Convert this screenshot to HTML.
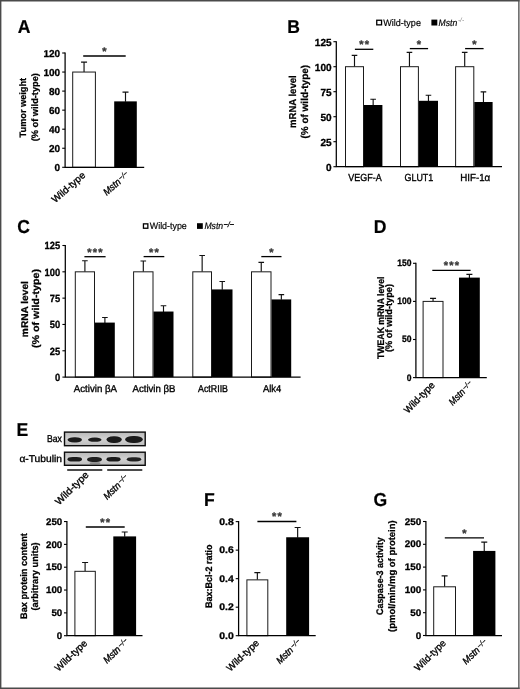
<!DOCTYPE html>
<html lang="en"><head><meta charset="utf-8"><title>Figure</title>
<style>
html,body{margin:0;padding:0;background:#fff;}
body{width:520px;height:689px;overflow:hidden;}
svg{display:block;font-family:"Liberation Sans",sans-serif;}
text{white-space:pre;text-rendering:geometricPrecision;}
</style></head><body>
<svg width="520" height="689" viewBox="0 0 520 689">
<rect x="0" y="0" width="520" height="689" fill="#fff"/>
<path d="M0 0.7H520M0.7 0V689" stroke="#4a4a4a" stroke-width="1.4" fill="none"/>
<path d="M0 688.2H520" stroke="#4a4a4a" stroke-width="1.6" fill="none"/>
<path d="M518.8 0V689" stroke="#4f4f4f" stroke-width="1.2" fill="none"/>
<path d="M519.7 0V689" stroke="#8c8c8c" stroke-width="0.7" fill="none"/>

<g id="A">
<text x="17.70" y="32.80" font-size="18.7" font-weight="bold" textLength="12.71" lengthAdjust="spacingAndGlyphs" stroke="#000" stroke-width="0.2">A</text>
<path d="M84.05 72.05V62.14M81.05 62.14H87.05" stroke="#111" stroke-width="1.15" fill="none"/>
<rect x="72.70" y="72.05" width="22.70" height="95.25" fill="#fff" stroke="#1a1a1a" stroke-width="1"/>
<path d="M125.50 101.77V92.05M122.50 92.05H128.50" stroke="#111" stroke-width="1.15" fill="none"/>
<rect x="114.20" y="101.37" width="22.60" height="65.93" fill="#000"/>
<path d="M65.10 52.45V167.30M64.50 167.30H144.20" stroke="#000" stroke-width="1.25" fill="none"/>
<path d="M62.20 167.30H65.10" stroke="#000" stroke-width="1.1"/>
<text x="60.10" y="170.80" font-size="10" font-weight="bold" text-anchor="end" textLength="5.55" lengthAdjust="spacingAndGlyphs" stroke="#000" stroke-width="0.3">0</text>
<path d="M62.20 148.25H65.10" stroke="#000" stroke-width="1.1"/>
<text x="60.10" y="151.75" font-size="10" font-weight="bold" text-anchor="end" textLength="11.10" lengthAdjust="spacingAndGlyphs" stroke="#000" stroke-width="0.3">20</text>
<path d="M62.20 129.20H65.10" stroke="#000" stroke-width="1.1"/>
<text x="60.10" y="132.70" font-size="10" font-weight="bold" text-anchor="end" textLength="11.10" lengthAdjust="spacingAndGlyphs" stroke="#000" stroke-width="0.3">40</text>
<path d="M62.20 110.15H65.10" stroke="#000" stroke-width="1.1"/>
<text x="60.10" y="113.65" font-size="10" font-weight="bold" text-anchor="end" textLength="11.10" lengthAdjust="spacingAndGlyphs" stroke="#000" stroke-width="0.3">60</text>
<path d="M62.20 91.10H65.10" stroke="#000" stroke-width="1.1"/>
<text x="60.10" y="94.60" font-size="10" font-weight="bold" text-anchor="end" textLength="11.10" lengthAdjust="spacingAndGlyphs" stroke="#000" stroke-width="0.3">80</text>
<path d="M62.20 72.05H65.10" stroke="#000" stroke-width="1.1"/>
<text x="60.10" y="75.55" font-size="10" font-weight="bold" text-anchor="end" textLength="16.65" lengthAdjust="spacingAndGlyphs" stroke="#000" stroke-width="0.3">100</text>
<path d="M62.20 53.00H65.10" stroke="#000" stroke-width="1.1"/>
<text x="60.10" y="56.50" font-size="10" font-weight="bold" text-anchor="end" textLength="16.65" lengthAdjust="spacingAndGlyphs" stroke="#000" stroke-width="0.3">120</text>
<path d="M83.20 56.00H125.70" stroke="#000" stroke-width="1.3"/><text x="102.31" y="54.98" font-size="11" font-weight="bold" fill="#3a3a3a" stroke="#3a3a3a" stroke-width="0.35">*</text>
<text transform="translate(86.00 176.20) rotate(-41.5)" font-size="9.8" text-anchor="end" textLength="41.00" lengthAdjust="spacingAndGlyphs" stroke="#000" stroke-width="0.35">Wild-type</text>
<g transform="translate(121.50 183.00) rotate(-41.5)"><text x="0" y="0" font-size="9.8" font-style="italic" text-anchor="end" textLength="19.8" lengthAdjust="spacingAndGlyphs" stroke="#000" stroke-width="0.35">Mstn</text><text x="0.8" y="-2.0" font-size="7.5" font-style="italic" fill="#111" stroke="#111" stroke-width="0.25" textLength="10.3" lengthAdjust="spacingAndGlyphs">−/−</text></g>
<text transform="translate(26.40 107.65) rotate(-90)" font-size="9.3" font-weight="bold" text-anchor="middle" textLength="59.50" lengthAdjust="spacingAndGlyphs" stroke="#000" stroke-width="0.25">Tumor weight</text>
<text transform="translate(37.80 107.20) rotate(-90)" font-size="9.3" font-weight="bold" text-anchor="middle" textLength="68.20" lengthAdjust="spacingAndGlyphs" stroke="#000" stroke-width="0.25">(% of wild-type)</text>
</g>
<g id="B">
<text x="287.20" y="32.50" font-size="18.7" font-weight="bold" textLength="12.71" lengthAdjust="spacingAndGlyphs" stroke="#000" stroke-width="0.2">B</text>
<path d="M354.50 66.70V55.40M351.70 55.40H357.30" stroke="#111" stroke-width="1.15" fill="none"/>
<rect x="345.50" y="66.70" width="18.00" height="100.00" fill="#fff" stroke="#1a1a1a" stroke-width="1"/>
<path d="M373.15 105.40V99.20M370.35 99.20H375.95" stroke="#111" stroke-width="1.15" fill="none"/>
<rect x="363.90" y="105.00" width="18.50" height="61.70" fill="#000"/>
<path d="M409.45 66.70V52.40M406.65 52.40H412.25" stroke="#111" stroke-width="1.15" fill="none"/>
<rect x="400.50" y="66.70" width="17.90" height="100.00" fill="#fff" stroke="#1a1a1a" stroke-width="1"/>
<path d="M428.45 101.20V95.20M425.65 95.20H431.25" stroke="#111" stroke-width="1.15" fill="none"/>
<rect x="418.90" y="100.80" width="19.10" height="65.90" fill="#000"/>
<path d="M464.70 66.70V52.40M461.90 52.40H467.50" stroke="#111" stroke-width="1.15" fill="none"/>
<rect x="455.60" y="66.70" width="18.20" height="100.00" fill="#fff" stroke="#1a1a1a" stroke-width="1"/>
<path d="M483.45 102.40V91.90M480.65 91.90H486.25" stroke="#111" stroke-width="1.15" fill="none"/>
<rect x="474.30" y="102.00" width="18.30" height="64.70" fill="#000"/>
<path d="M336.30 41.15V166.70M335.70 166.70H502.00" stroke="#000" stroke-width="1.25" fill="none"/>
<path d="M333.40 166.70H336.30" stroke="#000" stroke-width="1.1"/>
<text x="331.60" y="170.75" font-size="10.3" font-weight="bold" text-anchor="end" textLength="5.60" lengthAdjust="spacingAndGlyphs" stroke="#000" stroke-width="0.3">0</text>
<path d="M333.40 141.70H336.30" stroke="#000" stroke-width="1.1"/>
<text x="331.60" y="145.75" font-size="10.3" font-weight="bold" text-anchor="end" textLength="11.20" lengthAdjust="spacingAndGlyphs" stroke="#000" stroke-width="0.3">25</text>
<path d="M333.40 116.70H336.30" stroke="#000" stroke-width="1.1"/>
<text x="331.60" y="120.75" font-size="10.3" font-weight="bold" text-anchor="end" textLength="11.20" lengthAdjust="spacingAndGlyphs" stroke="#000" stroke-width="0.3">50</text>
<path d="M333.40 91.70H336.30" stroke="#000" stroke-width="1.1"/>
<text x="331.60" y="95.75" font-size="10.3" font-weight="bold" text-anchor="end" textLength="11.20" lengthAdjust="spacingAndGlyphs" stroke="#000" stroke-width="0.3">75</text>
<path d="M333.40 66.70H336.30" stroke="#000" stroke-width="1.1"/>
<text x="331.60" y="70.75" font-size="10.3" font-weight="bold" text-anchor="end" textLength="16.80" lengthAdjust="spacingAndGlyphs" stroke="#000" stroke-width="0.3">100</text>
<path d="M333.40 41.70H336.30" stroke="#000" stroke-width="1.1"/>
<text x="331.60" y="45.75" font-size="10.3" font-weight="bold" text-anchor="end" textLength="16.80" lengthAdjust="spacingAndGlyphs" stroke="#000" stroke-width="0.3">125</text>
<path d="M354.90 49.30H373.30" stroke="#000" stroke-width="1.3"/><text x="359.21 364.71" y="48.27" font-size="11" font-weight="bold" fill="#3a3a3a" stroke="#3a3a3a" stroke-width="0.35">**</text>
<path d="M409.80 48.60H428.10" stroke="#000" stroke-width="1.3"/><text x="416.81" y="47.58" font-size="11" font-weight="bold" fill="#3a3a3a" stroke="#3a3a3a" stroke-width="0.35">*</text>
<path d="M465.10 48.60H483.60" stroke="#000" stroke-width="1.3"/><text x="472.21" y="47.58" font-size="11" font-weight="bold" fill="#3a3a3a" stroke="#3a3a3a" stroke-width="0.35">*</text>
<text x="348.30" y="180.80" font-size="10.3" textLength="33.40" lengthAdjust="spacingAndGlyphs" stroke="#000" stroke-width="0.35">VEGF-A</text>
<text x="404.50" y="180.80" font-size="10.3" textLength="28.80" lengthAdjust="spacingAndGlyphs" stroke="#000" stroke-width="0.35">GLUT1</text>
<text x="460.20" y="180.80" font-size="10.3" textLength="30.00" lengthAdjust="spacingAndGlyphs" stroke="#000" stroke-width="0.35">HIF-1α</text>
<text transform="translate(296.30 101.65) rotate(-90)" font-size="10" font-weight="bold" text-anchor="middle" textLength="52.70" lengthAdjust="spacingAndGlyphs" stroke="#000" stroke-width="0.25">mRNA level</text>
<text transform="translate(308.00 101.70) rotate(-90)" font-size="10" font-weight="bold" text-anchor="middle" textLength="73.60" lengthAdjust="spacingAndGlyphs" stroke="#000" stroke-width="0.25">(% of wild-type)</text>
<rect x="376.75" y="20.25" width="4.80" height="4.60" fill="#fff" stroke="#000" stroke-width="1.3"/>
<text x="383.30" y="25.60" font-size="9.5" textLength="37.60" lengthAdjust="spacingAndGlyphs" stroke="#000" stroke-width="0.18">Wild-type</text>
<rect x="431.40" y="19.60" width="5.90" height="5.90" fill="#000"/>
<text x="438.60" y="25.60" font-size="9.5" font-style="italic" textLength="18.70" lengthAdjust="spacingAndGlyphs" stroke="#000" stroke-width="0.18">Mstn</text>
<text x="458.00" y="22.40" font-size="6.2" font-style="italic" textLength="6.00" lengthAdjust="spacingAndGlyphs" fill="#777">-/-</text>
</g>
<g id="C">
<text x="17.30" y="233.20" font-size="18.7" font-weight="bold" textLength="12.71" lengthAdjust="spacingAndGlyphs" stroke="#000" stroke-width="0.2">C</text>
<path d="M84.90 271.82V260.77M82.10 260.77H87.70" stroke="#111" stroke-width="1.15" fill="none"/>
<rect x="75.30" y="271.82" width="19.20" height="105.28" fill="#fff" stroke="#1a1a1a" stroke-width="1"/>
<path d="M104.90 322.99V317.51M102.10 317.51H107.70" stroke="#111" stroke-width="1.15" fill="none"/>
<rect x="95.00" y="322.59" width="19.80" height="54.51" fill="#000"/>
<path d="M143.30 271.82V260.98M140.50 260.98H146.10" stroke="#111" stroke-width="1.15" fill="none"/>
<rect x="133.60" y="271.82" width="19.40" height="105.28" fill="#fff" stroke="#1a1a1a" stroke-width="1"/>
<path d="M163.50 311.93V305.72M160.70 305.72H166.30" stroke="#111" stroke-width="1.15" fill="none"/>
<rect x="153.50" y="311.53" width="20.00" height="65.57" fill="#000"/>
<path d="M202.15 271.82V255.50M199.35 255.50H204.95" stroke="#111" stroke-width="1.15" fill="none"/>
<rect x="192.80" y="271.82" width="18.70" height="105.28" fill="#fff" stroke="#1a1a1a" stroke-width="1"/>
<path d="M222.25 289.82V281.51M219.45 281.51H225.05" stroke="#111" stroke-width="1.15" fill="none"/>
<rect x="212.00" y="289.42" width="20.50" height="87.68" fill="#000"/>
<path d="M261.25 271.82V262.34M258.45 262.34H264.05" stroke="#111" stroke-width="1.15" fill="none"/>
<rect x="251.50" y="271.82" width="19.50" height="105.28" fill="#fff" stroke="#1a1a1a" stroke-width="1"/>
<path d="M281.35 299.82V294.67M278.55 294.67H284.15" stroke="#111" stroke-width="1.15" fill="none"/>
<rect x="271.50" y="299.42" width="19.70" height="77.68" fill="#000"/>
<path d="M65.30 244.95V377.10M64.70 377.10H300.60" stroke="#000" stroke-width="1.25" fill="none"/>
<path d="M62.40 377.10H65.30" stroke="#000" stroke-width="1.1"/>
<text x="60.10" y="381.04" font-size="10.4" font-weight="bold" text-anchor="end" textLength="5.20" lengthAdjust="spacingAndGlyphs" stroke="#000" stroke-width="0.3">0</text>
<path d="M62.40 350.78H65.30" stroke="#000" stroke-width="1.1"/>
<text x="60.10" y="354.72" font-size="10.4" font-weight="bold" text-anchor="end" textLength="10.40" lengthAdjust="spacingAndGlyphs" stroke="#000" stroke-width="0.3">25</text>
<path d="M62.40 324.46H65.30" stroke="#000" stroke-width="1.1"/>
<text x="60.10" y="328.40" font-size="10.4" font-weight="bold" text-anchor="end" textLength="10.40" lengthAdjust="spacingAndGlyphs" stroke="#000" stroke-width="0.3">50</text>
<path d="M62.40 298.14H65.30" stroke="#000" stroke-width="1.1"/>
<text x="60.10" y="302.08" font-size="10.4" font-weight="bold" text-anchor="end" textLength="10.40" lengthAdjust="spacingAndGlyphs" stroke="#000" stroke-width="0.3">75</text>
<path d="M62.40 271.82H65.30" stroke="#000" stroke-width="1.1"/>
<text x="60.10" y="275.76" font-size="10.4" font-weight="bold" text-anchor="end" textLength="15.60" lengthAdjust="spacingAndGlyphs" stroke="#000" stroke-width="0.3">100</text>
<path d="M62.40 245.50H65.30" stroke="#000" stroke-width="1.1"/>
<text x="60.10" y="249.44" font-size="10.4" font-weight="bold" text-anchor="end" textLength="15.60" lengthAdjust="spacingAndGlyphs" stroke="#000" stroke-width="0.3">125</text>
<path d="M84.40 256.70H105.60" stroke="#000" stroke-width="1.3"/><text x="87.36 92.86 98.36" y="255.67" font-size="11" font-weight="bold" fill="#3a3a3a" stroke="#3a3a3a" stroke-width="0.35">***</text>
<path d="M143.60 256.60H164.30" stroke="#000" stroke-width="1.3"/><text x="149.06 154.56" y="255.58" font-size="11" font-weight="bold" fill="#3a3a3a" stroke="#3a3a3a" stroke-width="0.35">**</text>
<path d="M261.30 256.60H281.50" stroke="#000" stroke-width="1.3"/><text x="269.26" y="255.58" font-size="11" font-weight="bold" fill="#3a3a3a" stroke="#3a3a3a" stroke-width="0.35">*</text>
<text x="73.75" y="392.00" font-size="10" textLength="43.25" lengthAdjust="spacingAndGlyphs" stroke="#000" stroke-width="0.35">Activin βA</text>
<text x="132.50" y="392.00" font-size="10" textLength="43.00" lengthAdjust="spacingAndGlyphs" stroke="#000" stroke-width="0.35">Activin βB</text>
<text x="198.00" y="392.00" font-size="10" textLength="30.00" lengthAdjust="spacingAndGlyphs" stroke="#000" stroke-width="0.35">ActRIIB</text>
<text x="262.90" y="392.00" font-size="10" textLength="18.30" lengthAdjust="spacingAndGlyphs" stroke="#000" stroke-width="0.35">Alk4</text>
<text transform="translate(27.90 309.15) rotate(-90)" font-size="9.8" font-weight="bold" text-anchor="middle" textLength="56.00" lengthAdjust="spacingAndGlyphs" stroke="#000" stroke-width="0.25">mRNA level</text>
<text transform="translate(39.00 308.50) rotate(-90)" font-size="9.8" font-weight="bold" text-anchor="middle" textLength="79.20" lengthAdjust="spacingAndGlyphs" stroke="#000" stroke-width="0.25">(% of wild-type)</text>
<rect x="143.45" y="223.85" width="4.40" height="4.40" fill="#fff" stroke="#000" stroke-width="1.3"/>
<text x="149.80" y="229.40" font-size="9.5" textLength="37.00" lengthAdjust="spacingAndGlyphs" stroke="#000" stroke-width="0.18">Wild-type</text>
<rect x="197.00" y="223.20" width="5.80" height="5.70" fill="#000"/>
<text x="204.40" y="229.40" font-size="9.5" font-style="italic" textLength="18.80" lengthAdjust="spacingAndGlyphs" stroke="#000" stroke-width="0.18">Mstn</text>
<text x="223.40" y="227.40" font-size="7.5" font-style="italic" textLength="10.60" lengthAdjust="spacingAndGlyphs" fill="#111" stroke="#111" stroke-width="0.3">−/−</text>
</g>
<g id="D">
<text x="373.70" y="233.30" font-size="18.7" font-weight="bold" textLength="12.71" lengthAdjust="spacingAndGlyphs" stroke="#000" stroke-width="0.2">D</text>
<path d="M433.05 301.40V298.35M430.05 298.35H436.05" stroke="#111" stroke-width="1.15" fill="none"/>
<rect x="423.10" y="301.40" width="19.90" height="76.20" fill="#fff" stroke="#1a1a1a" stroke-width="1"/>
<path d="M469.40 278.01V274.43M466.40 274.43H472.40" stroke="#111" stroke-width="1.15" fill="none"/>
<rect x="459.00" y="277.61" width="20.80" height="99.99" fill="#000"/>
<path d="M415.90 262.75V377.60M415.30 377.60H486.80" stroke="#000" stroke-width="1.25" fill="none"/>
<path d="M413.00 377.60H415.90" stroke="#000" stroke-width="1.1"/>
<text x="411.40" y="380.59" font-size="9.4" font-weight="bold" text-anchor="end" textLength="4.75" lengthAdjust="spacingAndGlyphs" stroke="#000" stroke-width="0.3">0</text>
<path d="M413.00 339.50H415.90" stroke="#000" stroke-width="1.1"/>
<text x="411.40" y="342.49" font-size="9.4" font-weight="bold" text-anchor="end" textLength="9.50" lengthAdjust="spacingAndGlyphs" stroke="#000" stroke-width="0.3">50</text>
<path d="M413.00 301.40H415.90" stroke="#000" stroke-width="1.1"/>
<text x="411.40" y="304.39" font-size="9.4" font-weight="bold" text-anchor="end" textLength="14.25" lengthAdjust="spacingAndGlyphs" stroke="#000" stroke-width="0.3">100</text>
<path d="M413.00 263.30H415.90" stroke="#000" stroke-width="1.1"/>
<text x="411.40" y="266.29" font-size="9.4" font-weight="bold" text-anchor="end" textLength="14.25" lengthAdjust="spacingAndGlyphs" stroke="#000" stroke-width="0.3">150</text>
<path d="M432.30 270.40H470.60" stroke="#000" stroke-width="1.3"/><text x="443.81 449.31 454.81" y="269.37" font-size="11" font-weight="bold" fill="#3a3a3a" stroke="#3a3a3a" stroke-width="0.35">***</text>
<text transform="translate(435.40 385.60) rotate(-46)" font-size="9.8" text-anchor="end" textLength="39.50" lengthAdjust="spacingAndGlyphs" stroke="#000" stroke-width="0.35">Wild-type</text>
<g transform="translate(465.80 392.60) rotate(-46)"><text x="0" y="0" font-size="9.8" font-style="italic" text-anchor="end" textLength="18.7" lengthAdjust="spacingAndGlyphs" stroke="#000" stroke-width="0.35">Mstn</text><text x="0.8" y="-2.0" font-size="7.5" font-style="italic" fill="#111" stroke="#111" stroke-width="0.25" textLength="10.3" lengthAdjust="spacingAndGlyphs">−/−</text></g>
<text transform="translate(383.70 317.80) rotate(-90)" font-size="9.5" font-weight="bold" text-anchor="middle" textLength="82.40" lengthAdjust="spacingAndGlyphs" stroke="#000" stroke-width="0.25">TWEAK mRNA level</text>
<text transform="translate(392.10 318.00) rotate(-90)" font-size="9.5" font-weight="bold" text-anchor="middle" textLength="68.10" lengthAdjust="spacingAndGlyphs" stroke="#000" stroke-width="0.25">(% of wild-type)</text>
</g>
<g id="E">
<text x="16.40" y="435.70" font-size="18.7" font-weight="bold" textLength="11.74" lengthAdjust="spacingAndGlyphs" stroke="#000" stroke-width="0.2">E</text>
<defs><filter id="bl" x="-20%" y="-60%" width="140%" height="220%"><feGaussianBlur stdDeviation="0.75"/></filter><linearGradient id="gb" x1="0" y1="0" x2="0" y2="1"><stop offset="0" stop-color="#b8b8b8"/><stop offset="0.5" stop-color="#d2d2d2"/><stop offset="1" stop-color="#bcbcbc"/></linearGradient></defs>
<rect x="64.5" y="432.10" width="80.7" height="13.60" fill="url(#gb)" stroke="#0c0c0c" stroke-width="1.4"/>
<rect x="67.6" y="437.3" width="14.40" height="5.10" rx="6.48" ry="2.55" fill="#101010" opacity="0.93" filter="url(#bl)"/>
<rect x="88.0" y="437.6" width="13.50" height="4.20" rx="6.08" ry="2.10" fill="#101010" opacity="0.93" filter="url(#bl)"/>
<rect x="106.5" y="436.2" width="15.30" height="6.70" rx="6.88" ry="3.35" fill="#101010" opacity="0.93" filter="url(#bl)"/>
<rect x="125.1" y="436.1" width="17.70" height="6.80" rx="7.97" ry="3.40" fill="#101010" opacity="0.93" filter="url(#bl)"/>
<rect x="64.5" y="452.20" width="80.7" height="13.10" fill="url(#gb)" stroke="#0c0c0c" stroke-width="1.4"/>
<rect x="67.5" y="456.9" width="14.50" height="4.60" rx="5.22" ry="2.30" fill="#101010" opacity="0.93" filter="url(#bl)"/>
<rect x="87.0" y="456.9" width="15.00" height="5.10" rx="5.40" ry="2.55" fill="#101010" opacity="0.90" filter="url(#bl)"/>
<rect x="106.5" y="456.9" width="14.10" height="4.60" rx="5.08" ry="2.30" fill="#101010" opacity="0.93" filter="url(#bl)"/>
<rect x="126.8" y="457.2" width="14.40" height="4.30" rx="5.18" ry="2.15" fill="#101010" opacity="0.90" filter="url(#bl)"/>
<ellipse cx="95" cy="463.3" rx="5.5" ry="1.4" fill="#555" opacity="0.5" filter="url(#bl)"/>
<text x="61.90" y="442.10" font-size="9.9" text-anchor="end" textLength="15.00" lengthAdjust="spacingAndGlyphs" stroke="#000" stroke-width="0.35">Bax</text>
<text x="61.90" y="462.10" font-size="9.9" text-anchor="end" textLength="42.50" lengthAdjust="spacingAndGlyphs" stroke="#000" stroke-width="0.35">α-Tubulin</text>
<path d="M67.2 469.9H102.3M107.2 469.9H142.3" stroke="#111" stroke-width="1.5"/>
<text transform="translate(89.40 475.60) rotate(-44.5)" font-size="9.8" text-anchor="end" textLength="42.80" lengthAdjust="spacingAndGlyphs" stroke="#000" stroke-width="0.35">Wild-type</text>
<g transform="translate(121.30 486.30) rotate(-44.5)"><text x="0" y="0" font-size="9.8" font-style="italic" text-anchor="end" textLength="19.8" lengthAdjust="spacingAndGlyphs" stroke="#000" stroke-width="0.35">Mstn</text><text x="0.8" y="-2.0" font-size="7.5" font-style="italic" fill="#111" stroke="#111" stroke-width="0.25" textLength="10.3" lengthAdjust="spacingAndGlyphs">−/−</text></g>
<path d="M85.10 571.32V562.51M82.10 562.51H88.10" stroke="#111" stroke-width="1.15" fill="none"/>
<rect x="74.90" y="571.32" width="20.40" height="64.38" fill="#fff" stroke="#1a1a1a" stroke-width="1"/>
<path d="M124.70 536.80V532.01M121.70 532.01H127.70" stroke="#111" stroke-width="1.15" fill="none"/>
<rect x="113.30" y="536.40" width="22.80" height="99.30" fill="#000"/>
<path d="M66.90 521.00V635.70M66.30 635.70H142.50" stroke="#000" stroke-width="1.25" fill="none"/>
<path d="M64.00 635.70H66.90" stroke="#000" stroke-width="1.1"/>
<text x="62.20" y="638.86" font-size="9.6" font-weight="bold" text-anchor="end" textLength="5.40" lengthAdjust="spacingAndGlyphs" stroke="#000" stroke-width="0.3">0</text>
<path d="M64.00 612.87H66.90" stroke="#000" stroke-width="1.1"/>
<text x="62.20" y="616.03" font-size="9.6" font-weight="bold" text-anchor="end" textLength="10.80" lengthAdjust="spacingAndGlyphs" stroke="#000" stroke-width="0.3">50</text>
<path d="M64.00 590.04H66.90" stroke="#000" stroke-width="1.1"/>
<text x="62.20" y="593.20" font-size="9.6" font-weight="bold" text-anchor="end" textLength="16.20" lengthAdjust="spacingAndGlyphs" stroke="#000" stroke-width="0.3">100</text>
<path d="M64.00 567.21H66.90" stroke="#000" stroke-width="1.1"/>
<text x="62.20" y="570.37" font-size="9.6" font-weight="bold" text-anchor="end" textLength="16.20" lengthAdjust="spacingAndGlyphs" stroke="#000" stroke-width="0.3">150</text>
<path d="M64.00 544.38H66.90" stroke="#000" stroke-width="1.1"/>
<text x="62.20" y="547.54" font-size="9.6" font-weight="bold" text-anchor="end" textLength="16.20" lengthAdjust="spacingAndGlyphs" stroke="#000" stroke-width="0.3">200</text>
<path d="M64.00 521.55H66.90" stroke="#000" stroke-width="1.1"/>
<text x="62.20" y="524.71" font-size="9.6" font-weight="bold" text-anchor="end" textLength="16.20" lengthAdjust="spacingAndGlyphs" stroke="#000" stroke-width="0.3">250</text>
<path d="M85.80 527.00H124.70" stroke="#000" stroke-width="1.3"/><text x="100.36 105.86" y="525.98" font-size="11" font-weight="bold" fill="#3a3a3a" stroke="#3a3a3a" stroke-width="0.35">**</text>
<text transform="translate(87.90 644.00) rotate(-43.5)" font-size="9.8" text-anchor="end" textLength="40.50" lengthAdjust="spacingAndGlyphs" stroke="#000" stroke-width="0.35">Wild-type</text>
<g transform="translate(121.30 650.20) rotate(-44)"><text x="0" y="0" font-size="9.8" font-style="italic" text-anchor="end" textLength="20" lengthAdjust="spacingAndGlyphs" stroke="#000" stroke-width="0.35">Mstn</text><text x="0.8" y="-2.0" font-size="7.5" font-style="italic" fill="#111" stroke="#111" stroke-width="0.25" textLength="10.3" lengthAdjust="spacingAndGlyphs">−/−</text></g>
<text transform="translate(27.10 576.00) rotate(-90)" font-size="9.5" font-weight="bold" text-anchor="middle" textLength="85.80" lengthAdjust="spacingAndGlyphs" stroke="#000" stroke-width="0.25">Bax protein content</text>
<text transform="translate(37.50 576.45) rotate(-90)" font-size="9.5" font-weight="bold" text-anchor="middle" textLength="68.30" lengthAdjust="spacingAndGlyphs" stroke="#000" stroke-width="0.25">(arbitrary units)</text>
</g>
<g id="F">
<text x="203.90" y="505.80" font-size="18.7" font-weight="bold" textLength="10.75" lengthAdjust="spacingAndGlyphs" stroke="#000" stroke-width="0.2">F</text>
<path d="M257.35 579.86V572.64M254.35 572.64H260.35" stroke="#111" stroke-width="1.15" fill="none"/>
<rect x="246.90" y="579.86" width="20.90" height="55.84" fill="#fff" stroke="#1a1a1a" stroke-width="1"/>
<path d="M297.65 537.66V527.47M294.65 527.47H300.65" stroke="#111" stroke-width="1.15" fill="none"/>
<rect x="286.20" y="537.26" width="22.90" height="98.44" fill="#000"/>
<path d="M238.60 521.07V635.70M238.00 635.70H315.70" stroke="#000" stroke-width="1.25" fill="none"/>
<path d="M235.70 635.70H238.60" stroke="#000" stroke-width="1.1"/>
<text x="233.70" y="638.86" font-size="9.6" font-weight="bold" text-anchor="end" textLength="14.50" lengthAdjust="spacingAndGlyphs" stroke="#000" stroke-width="0.3">0.0</text>
<path d="M235.70 607.18H238.60" stroke="#000" stroke-width="1.1"/>
<text x="233.70" y="610.34" font-size="9.6" font-weight="bold" text-anchor="end" textLength="14.50" lengthAdjust="spacingAndGlyphs" stroke="#000" stroke-width="0.3">0.2</text>
<path d="M235.70 578.66H238.60" stroke="#000" stroke-width="1.1"/>
<text x="233.70" y="581.82" font-size="9.6" font-weight="bold" text-anchor="end" textLength="14.50" lengthAdjust="spacingAndGlyphs" stroke="#000" stroke-width="0.3">0.4</text>
<path d="M235.70 550.14H238.60" stroke="#000" stroke-width="1.1"/>
<text x="233.70" y="553.30" font-size="9.6" font-weight="bold" text-anchor="end" textLength="14.50" lengthAdjust="spacingAndGlyphs" stroke="#000" stroke-width="0.3">0.6</text>
<path d="M235.70 521.62H238.60" stroke="#000" stroke-width="1.1"/>
<text x="233.70" y="524.78" font-size="9.6" font-weight="bold" text-anchor="end" textLength="14.50" lengthAdjust="spacingAndGlyphs" stroke="#000" stroke-width="0.3">0.8</text>
<path d="M257.40 521.50H296.40" stroke="#000" stroke-width="1.3"/><text x="272.01 277.51" y="520.48" font-size="11" font-weight="bold" fill="#3a3a3a" stroke="#3a3a3a" stroke-width="0.35">**</text>
<text transform="translate(259.80 643.80) rotate(-43.5)" font-size="9.8" text-anchor="end" textLength="40.80" lengthAdjust="spacingAndGlyphs" stroke="#000" stroke-width="0.35">Wild-type</text>
<g transform="translate(293.90 651.00) rotate(-44)"><text x="0" y="0" font-size="9.8" font-style="italic" text-anchor="end" textLength="19.3" lengthAdjust="spacingAndGlyphs" stroke="#000" stroke-width="0.35">Mstn</text><text x="0.8" y="-2.0" font-size="7.5" font-style="italic" fill="#111" stroke="#111" stroke-width="0.25" textLength="10.3" lengthAdjust="spacingAndGlyphs">−/−</text></g>
<text transform="translate(212.10 576.20) rotate(-90)" font-size="9.5" font-weight="bold" text-anchor="middle" textLength="63.60" lengthAdjust="spacingAndGlyphs" stroke="#000" stroke-width="0.25">Bax:Bcl-2 ratio</text>
</g>
<g id="G">
<text x="373.40" y="505.70" font-size="18.7" font-weight="bold" textLength="13.69" lengthAdjust="spacingAndGlyphs" stroke="#000" stroke-width="0.2">G</text>
<path d="M444.60 586.80V575.81M441.60 575.81H447.60" stroke="#111" stroke-width="1.15" fill="none"/>
<rect x="433.70" y="586.80" width="21.80" height="48.70" fill="#fff" stroke="#1a1a1a" stroke-width="1"/>
<path d="M484.25 551.32V542.11M481.25 542.11H487.25" stroke="#111" stroke-width="1.15" fill="none"/>
<rect x="473.10" y="550.92" width="22.30" height="84.58" fill="#000"/>
<path d="M425.90 520.95V635.50M425.30 635.50H502.00" stroke="#000" stroke-width="1.25" fill="none"/>
<path d="M423.00 635.50H425.90" stroke="#000" stroke-width="1.1"/>
<text x="421.30" y="638.61" font-size="9.6" font-weight="bold" text-anchor="end" textLength="5.50" lengthAdjust="spacingAndGlyphs" stroke="#000" stroke-width="0.3">0</text>
<path d="M423.00 612.70H425.90" stroke="#000" stroke-width="1.1"/>
<text x="421.30" y="615.81" font-size="9.6" font-weight="bold" text-anchor="end" textLength="11.00" lengthAdjust="spacingAndGlyphs" stroke="#000" stroke-width="0.3">50</text>
<path d="M423.00 589.90H425.90" stroke="#000" stroke-width="1.1"/>
<text x="421.30" y="593.01" font-size="9.6" font-weight="bold" text-anchor="end" textLength="16.50" lengthAdjust="spacingAndGlyphs" stroke="#000" stroke-width="0.3">100</text>
<path d="M423.00 567.10H425.90" stroke="#000" stroke-width="1.1"/>
<text x="421.30" y="570.21" font-size="9.6" font-weight="bold" text-anchor="end" textLength="16.50" lengthAdjust="spacingAndGlyphs" stroke="#000" stroke-width="0.3">150</text>
<path d="M423.00 544.30H425.90" stroke="#000" stroke-width="1.1"/>
<text x="421.30" y="547.41" font-size="9.6" font-weight="bold" text-anchor="end" textLength="16.50" lengthAdjust="spacingAndGlyphs" stroke="#000" stroke-width="0.3">200</text>
<path d="M423.00 521.50H425.90" stroke="#000" stroke-width="1.1"/>
<text x="421.30" y="524.61" font-size="9.6" font-weight="bold" text-anchor="end" textLength="16.50" lengthAdjust="spacingAndGlyphs" stroke="#000" stroke-width="0.3">250</text>
<path d="M444.80 537.90H484.00" stroke="#000" stroke-width="1.3"/><text x="462.26" y="536.88" font-size="11" font-weight="bold" fill="#3a3a3a" stroke="#3a3a3a" stroke-width="0.35">*</text>
<text transform="translate(446.60 643.80) rotate(-44.5)" font-size="9.8" text-anchor="end" textLength="39.80" lengthAdjust="spacingAndGlyphs" stroke="#000" stroke-width="0.35">Wild-type</text>
<g transform="translate(480.40 651.00) rotate(-44.5)"><text x="0" y="0" font-size="9.8" font-style="italic" text-anchor="end" textLength="19.8" lengthAdjust="spacingAndGlyphs" stroke="#000" stroke-width="0.35">Mstn</text><text x="0.8" y="-2.0" font-size="7.5" font-style="italic" fill="#111" stroke="#111" stroke-width="0.25" textLength="10.3" lengthAdjust="spacingAndGlyphs">−/−</text></g>
<text transform="translate(383.30 576.15) rotate(-90)" font-size="9.5" font-weight="bold" text-anchor="middle" textLength="77.70" lengthAdjust="spacingAndGlyphs" stroke="#000" stroke-width="0.25">Caspase-3 activity</text>
<text transform="translate(395.20 576.15) rotate(-90)" font-size="9.5" font-weight="bold" text-anchor="middle" textLength="111.70" lengthAdjust="spacingAndGlyphs" stroke="#000" stroke-width="0.25">(pmol/min/mg of protein)</text>
</g>
</svg></body></html>
